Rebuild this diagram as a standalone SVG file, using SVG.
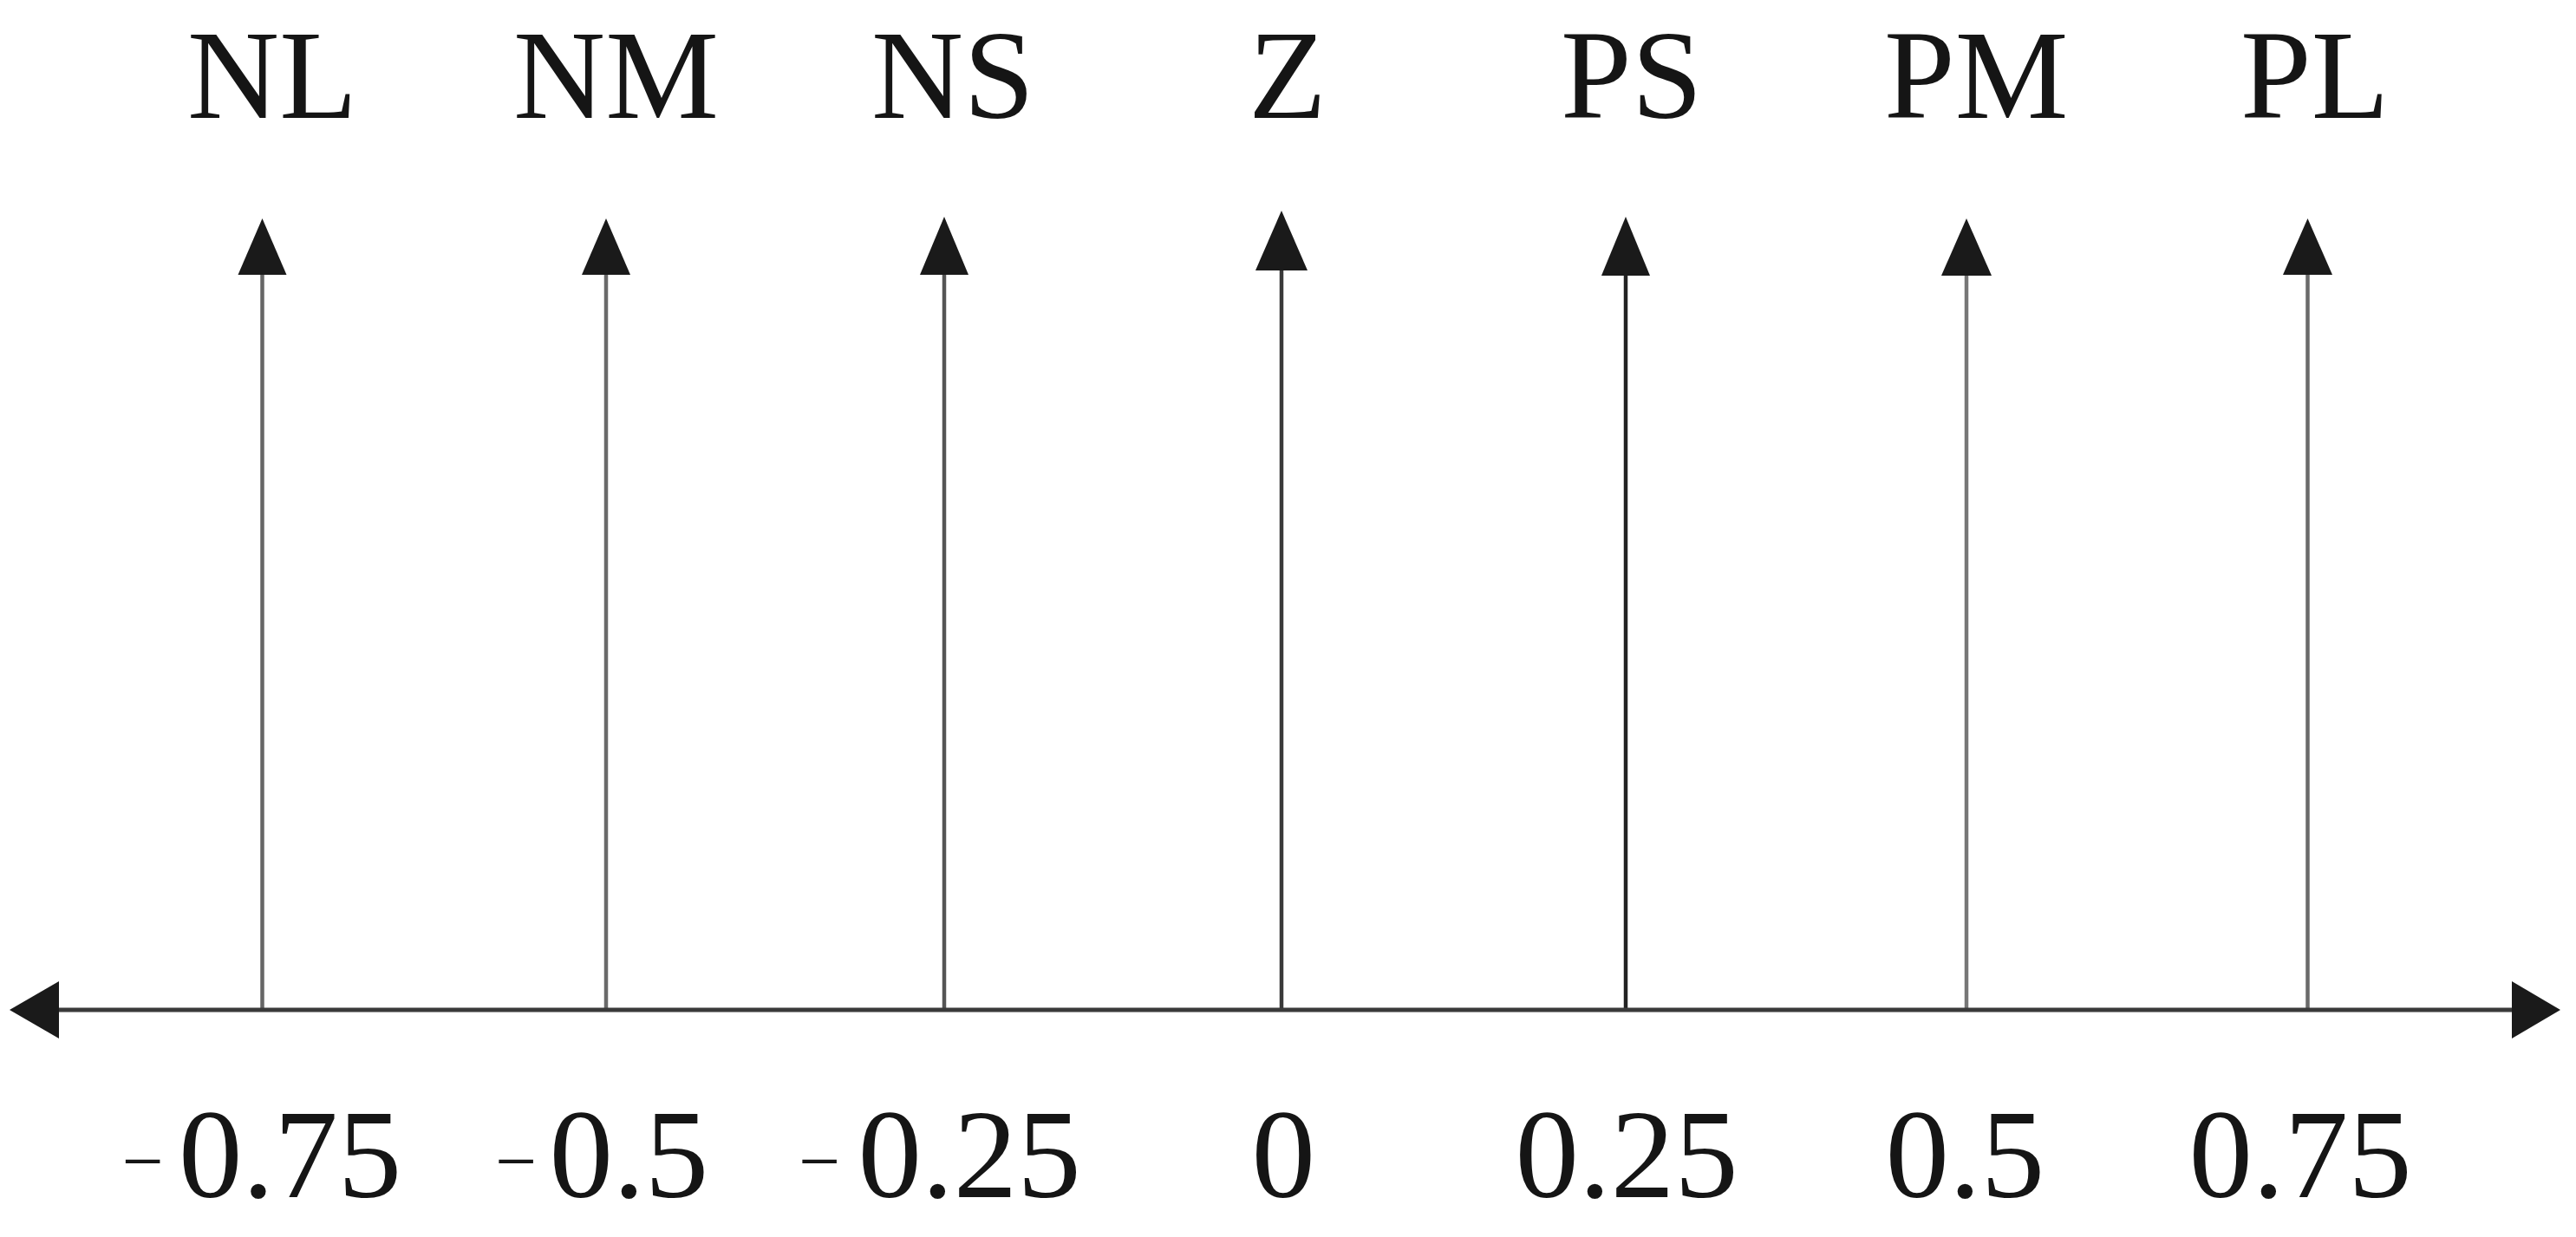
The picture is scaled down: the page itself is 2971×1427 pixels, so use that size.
<svg xmlns="http://www.w3.org/2000/svg" width="2971" height="1427" viewBox="0 0 2971 1427">
<style>
text{font-family:'Liberation Serif','Times New Roman',serif;font-size:147px;fill:#151515}
.m{font-size:85px}
.head{fill:#1a1a1a}
.stem{stroke-width:4.5;fill:none}
.axis{stroke:#3a3a3a;stroke-width:5;fill:none}
</style>
<rect width="2971" height="1427" fill="#ffffff"/>
<g id="connectors">
<line class="stem" x1="302.5" y1="1165" x2="302.5" y2="312" stroke="#666666"/>
<line class="stem" x1="699" y1="1165" x2="699" y2="312" stroke="#6a6a6a"/>
<line class="stem" x1="1089" y1="1165" x2="1089" y2="312" stroke="#555555"/>
<line class="stem" x1="1478" y1="1165" x2="1478" y2="306" stroke="#3a3a3a"/>
<line class="stem" x1="1875" y1="1165" x2="1875" y2="312" stroke="#222222"/>
<line class="stem" x1="2268" y1="1165" x2="2268" y2="312" stroke="#777777"/>
<line class="stem" x1="2661.5" y1="1165" x2="2661.5" y2="312" stroke="#6a6a6a"/>
</g>
<g id="axis">
<line class="axis" x1="60" y1="1165" x2="2905" y2="1165"/>
<polygon class="head" points="11,1165 68,1132 68,1198"/>
<polygon class="head" points="2953,1165 2897,1132 2897,1198"/>
</g>
<g id="NL">
<polygon class="head" points="302.5,252 274.5,317 330.5,317"/>
<text font-family="Liberation Serif" x="216" y="136">NL</text>
<text font-family="Liberation Serif" y="1381"><tspan class="m" x="140.5" dy="-13">−</tspan><tspan x="206" dy="13">0.75</tspan></text>
</g>
<g id="NM">
<polygon class="head" points="699,252 671,317 727,317"/>
<text font-family="Liberation Serif" x="592" y="136">NM</text>
<text font-family="Liberation Serif" y="1381"><tspan class="m" x="571" dy="-13">−</tspan><tspan x="633.5" dy="13">0.5</tspan></text>
</g>
<g id="NS">
<polygon class="head" points="1089,250 1061,317 1117,317"/>
<text font-family="Liberation Serif" x="1005" y="136">NS</text>
<text font-family="Liberation Serif" y="1381"><tspan class="m" x="921" dy="-13">−</tspan><tspan x="989.5" dy="13">0.25</tspan></text>
</g>
<g id="Z">
<polygon class="head" points="1478,243 1448,312 1508,312"/>
<text font-family="Liberation Serif" x="1440" y="136">Z</text>
<text font-family="Liberation Serif" x="1443.5" y="1381">0</text>
</g>
<g id="PS">
<polygon class="head" points="1875,250 1847,318 1903,318"/>
<text font-family="Liberation Serif" x="1800" y="136">PS</text>
<text font-family="Liberation Serif" x="1747.5" y="1381">0.25</text>
</g>
<g id="PM">
<polygon class="head" points="2268,252 2239,318 2297,318"/>
<text font-family="Liberation Serif" x="2173" y="136">PM</text>
<text font-family="Liberation Serif" x="2174.5" y="1381">0.5</text>
</g>
<g id="PL">
<polygon class="head" points="2661.5,252 2633,317 2690,317"/>
<text font-family="Liberation Serif" x="2584" y="136">PL</text>
<text font-family="Liberation Serif" x="2524.5" y="1381">0.75</text>
</g>
</svg>
